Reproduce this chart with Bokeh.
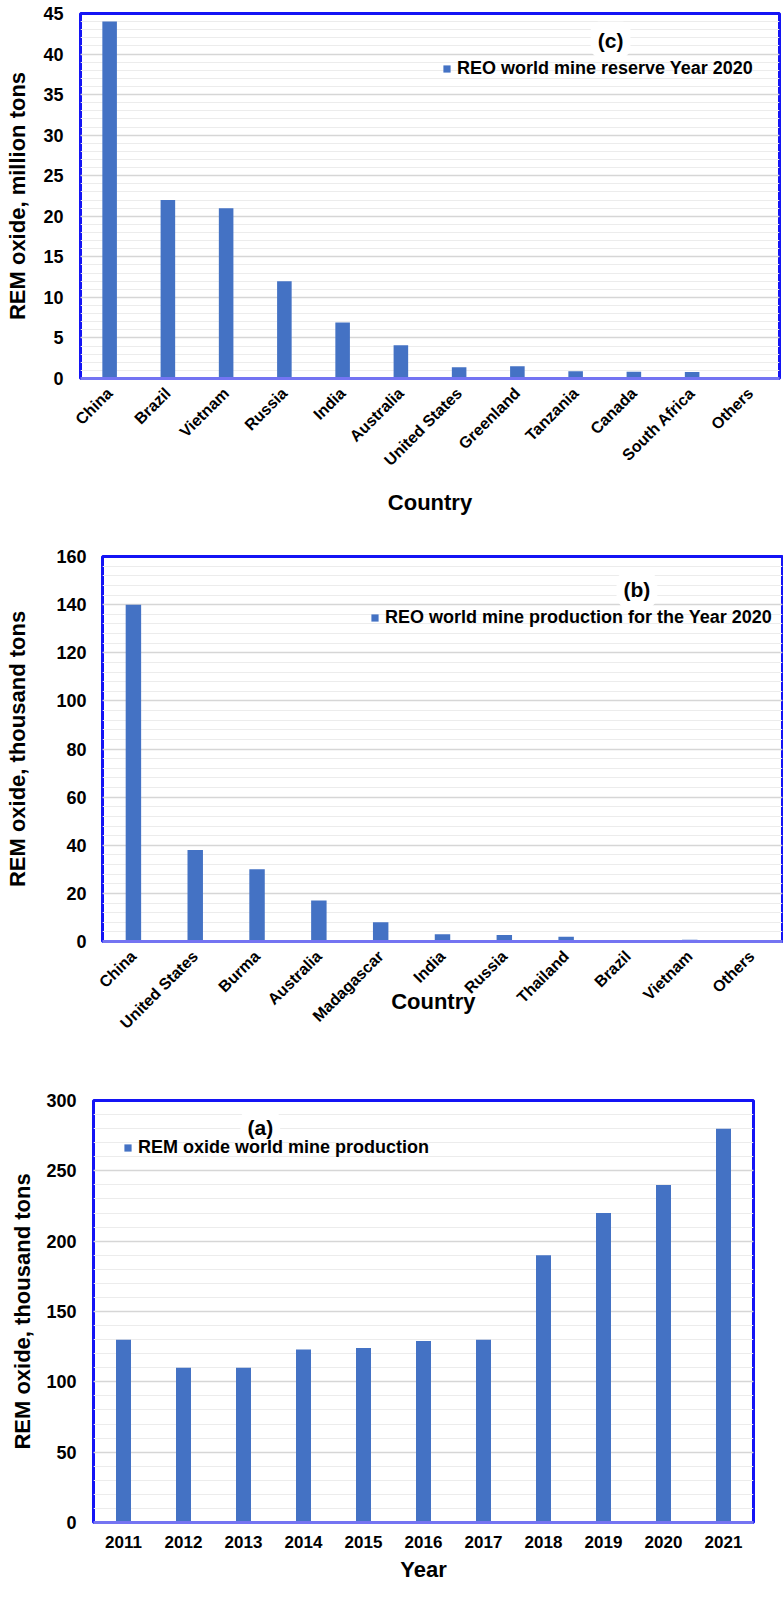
import math
from bokeh.plotting import figure
from bokeh.models import (Range1d, FactorRange, SingleIntervalTicker, Legend, LegendItem,
                          Label, ColumnDataSource)
from bokeh.embed import file_html
from bokeh.resources import INLINE

# ---------------- data ----------------
reserve_countries = ["China", "Brazil", "Vietnam", "Russia", "India", "Australia",
                     "United States", "Greenland", "Tanzania", "Canada", "South Africa", "Others"]
reserve_values = [44, 22, 21, 12, 6.9, 4.1, 1.4, 1.5, 0.89, 0.83, 0.79, 0.2]

prod_countries = ["China", "United States", "Burma", "Australia", "Madagascar", "India",
                  "Russia", "Thailand", "Brazil", "Vietnam", "Others"]
prod_values = [140, 38, 30, 17, 8, 3, 2.7, 2, 0.6, 0.7, 0.1]

years = ["2011", "2012", "2013", "2014", "2015", "2016", "2017", "2018", "2019", "2020", "2021"]
world_values = [130, 110, 110, 123, 124, 129, 130, 190, 220, 240, 280]

FONT = "Liberation Sans"
BAR = "#4472c4"


def panel(cats, vals, ymax, step, width, height, borders, ylabel, ytick_standoff,
          ylabel_standoff, xlabel, xlabel_standoff, legend_text, legend_loc, tag,
          tag_xy, rotate):
    left, right, top, bottom = borders
    p = figure(x_range=FactorRange(factors=cats, range_padding=0),
               y_range=Range1d(0, ymax), width=width, height=height,
               output_backend="svg", toolbar_location=None,
               min_border_left=left, min_border_right=right,
               min_border_top=top, min_border_bottom=bottom)
    src = ColumnDataSource(dict(cat=cats, val=vals))
    r = p.vbar(x="cat", top="val", width=0.25, source=src,
               fill_color=BAR, line_color=None)

    p.background_fill_color = "white"
    p.border_fill_color = "white"
    p.outline_line_color = "#1414f5"
    p.outline_line_width = 3

    p.xgrid.grid_line_color = None
    p.ygrid.grid_line_color = "#d6d6d6"
    p.ygrid.grid_line_width = 1.5
    p.ygrid.minor_grid_line_color = "#ececec"
    p.ygrid.minor_grid_line_width = 1

    p.yaxis.ticker = SingleIntervalTicker(interval=step, num_minor_ticks=5)
    p.yaxis.axis_line_color = None
    p.yaxis.major_tick_line_color = None
    p.yaxis.minor_tick_line_color = None
    p.yaxis.major_label_text_font = FONT
    p.yaxis.major_label_text_font_style = "bold"
    p.yaxis.major_label_text_font_size = "18px"
    p.yaxis.major_label_text_color = "black"
    p.yaxis.major_label_standoff = ytick_standoff
    p.yaxis.axis_label = ylabel
    p.yaxis.axis_label_text_font = FONT
    p.yaxis.axis_label_text_font_style = "bold"
    p.yaxis.axis_label_text_font_size = "22px"
    p.yaxis.axis_label_text_color = "black"
    p.yaxis.axis_label_standoff = ylabel_standoff

    p.xaxis.axis_line_color = "#7474f2"
    p.xaxis.axis_line_width = 3
    p.xaxis.major_tick_line_color = None
    p.xaxis.minor_tick_line_color = None
    p.xaxis.major_label_text_font = FONT
    p.xaxis.major_label_text_font_style = "bold"
    p.xaxis.major_label_text_color = "black"
    if rotate:
        p.xaxis.major_label_orientation = math.pi / 4
        p.xaxis.major_label_text_font_size = "16px"
        p.xaxis.major_label_standoff = 6
    else:
        p.xaxis.major_label_text_font_size = "17px"
        p.xaxis.major_label_standoff = 7
    p.xaxis.axis_label = xlabel
    p.xaxis.axis_label_text_font = FONT
    p.xaxis.axis_label_text_font_style = "bold"
    p.xaxis.axis_label_text_font_size = "22px"
    p.xaxis.axis_label_text_color = "black"
    p.xaxis.axis_label_standoff = xlabel_standoff

    leg = Legend(items=[LegendItem(label=legend_text, renderers=[r])],
                 location=legend_loc, padding=0, margin=0, spacing=0,
                 glyph_width=9, glyph_height=9, label_height=9, label_standoff=6,
                 background_fill_alpha=0, border_line_color=None,
                 label_text_font=FONT, label_text_font_style="bold",
                 label_text_font_size="18px", label_text_color="black")
    p.add_layout(leg)
    p.add_layout(Label(x=tag_xy[0], y=tag_xy[1], text=tag, text_align="center",
                       text_baseline="middle", text_font=FONT, text_font_style="bold",
                       text_font_size="21px", text_color="black",
                       background_fill_color="white", border_line_color="white",
                       border_line_width=14))
    return p


# (c) reserves: frame x 80..779, y 13..378
pc = panel(reserve_countries, reserve_values, 45, 5, 783, 520, (80, 4, 13, 142),
           "REM oxide, million tons", 11, 10, "Country", 12,
           "REO world mine reserve Year 2020", (362, 299), "(c)", (9.1, 41.7), True)

# (b) production 2020: frame x 102..783, y 556..941
# (trailing no-break spaces nudge the centred axis title slightly left, as in the source)
pb = panel(prod_countries, prod_values, 160, 20, 783, 520, (102, 1, 36, 99),
           "REM oxide, thousand tons", 10, 23, "Country\u00a0\u00a0\u00a0", -52,
           "REO world mine production for the Year 2020", (268, 313), "(b)",
           (8.645, 146.3), True)

# (a) world production by year: frame x 93..753, y 1100..1522
pa = panel(years, world_values, 300, 50, 783, 550, (93, 30, 60, 68),
           "REM oxide, thousand tons", 11, 8, "Year", 6,
           "REM oxide world mine production", (30, 364), "(a)", (2.78, 280.8), False)

open("out.html", "w").write(file_html([pc, pb, pa], INLINE))
